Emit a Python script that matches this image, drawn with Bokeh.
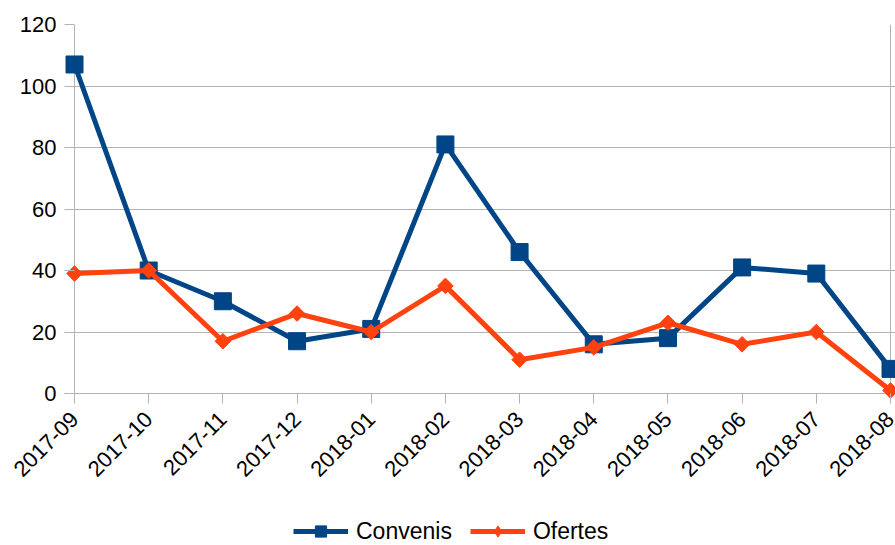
import math
from bokeh.plotting import figure
from bokeh.layouts import column
from bokeh.models import FixedTicker, Legend, LegendItem, Span
from bokeh.embed import file_html
from bokeh.resources import INLINE

months = ["2017-09", "2017-10", "2017-11", "2017-12", "2018-01", "2018-02",
          "2018-03", "2018-04", "2018-05", "2018-06", "2018-07", "2018-08"]
convenis = [107, 40, 30, 17, 21, 81, 46, 16, 18, 41, 39, 8]
ofertes = [39, 40, 17, 26, 20, 35, 11, 15, 23, 16, 20, 1]
y_ticks = [0, 20, 40, 60, 80, 100, 120]
series_names = ["Convenis", "Ofertes"]

xs = list(range(len(months)))
BLUE = "#004586"
ORANGE = "#ff420e"
GRID = "#b3b3b3"
FONT = "Liberation Sans"

# frame is a little larger than the data area so that markers at the edges are not clipped;
# 0..11 spans 816 px, 0..120 spans 369 px
n_last = len(months) - 1
x_unit = 816 / n_last
y_unit = 369 / 120
p = figure(width=895, height=505, output_backend="svg", toolbar_location=None,
           x_range=(-10 / x_unit, n_last + 5 / x_unit),
           y_range=(-10 / y_unit, 120),
           min_border_left=64, min_border_right=0, min_border_top=24,
           min_border_bottom=102)
p.outline_line_color = None
p.background_fill_color = "white"
p.border_fill_color = "white"

p.xaxis.ticker = FixedTicker(ticks=xs)
p.xaxis.major_label_overrides = {i: m for i, m in enumerate(months)}
p.xaxis.major_label_orientation = math.pi / 4
p.yaxis.ticker = FixedTicker(ticks=y_ticks)

for ax in (p.xaxis, p.yaxis):
    ax.axis_line_color = None
    ax.major_tick_line_color = GRID
    ax.major_tick_out = 0
    ax.major_tick_in = 10
    ax.minor_tick_line_color = None
    ax.major_label_text_font = FONT
    ax.major_label_text_font_size = "22px"
    ax.major_label_text_color = "black"
p.xaxis.major_label_standoff = 12
p.yaxis.major_label_standoff = 8

p.xgrid.grid_line_color = None
p.ygrid.grid_line_color = GRID
p.ygrid.grid_line_width = 1

for loc, dim in ((0, "height"), (n_last, "height"), (0, "width")):
    p.add_layout(Span(location=loc, dimension=dim, line_color=GRID,
                      line_width=1, level="underlay"))

p.line(xs, convenis, line_color=BLUE, line_width=5)
p.scatter(xs, convenis, marker="square", size=17, fill_color=BLUE, line_color=BLUE)
p.line(xs, ofertes, line_color=ORANGE, line_width=5)
p.scatter(xs, ofertes, marker="square", angle=math.pi / 4, size=11,
          fill_color=ORANGE, line_color=ORANGE)

# Legend strip below the chart
lf = figure(width=895, height=40, output_backend="svg", toolbar_location=None,
            x_range=(0, 1), y_range=(0, 1), x_axis_type=None, y_axis_type=None,
            min_border=0)
lf.outline_line_color = None
lf.xgrid.grid_line_color = None
lf.ygrid.grid_line_color = None
off = [-10]
d1 = lf.line(off, off, line_color=BLUE, line_width=5)
m1 = lf.scatter(off, off, marker="square", fill_color=BLUE, line_color=BLUE)
d2 = lf.line(off, off, line_color=ORANGE, line_width=5)
m2 = lf.scatter(off, off, marker="diamond", fill_color=ORANGE, line_color=ORANGE)

legend = Legend(items=[LegendItem(label=series_names[0], renderers=[d1, m1]),
                       LegendItem(label=series_names[1], renderers=[d2, m2])],
                orientation="horizontal", location=(229, 0),
                glyph_width=55, glyph_height=28, label_standoff=8, spacing=18,
                padding=0, margin=0, border_line_color=None,
                background_fill_alpha=0, label_text_font=FONT,
                label_text_font_size="23px", label_text_color="black")
lf.add_layout(legend, "center")

layout = column(p, lf, spacing=0)
open("out.html", "w").write(file_html(layout, INLINE))
